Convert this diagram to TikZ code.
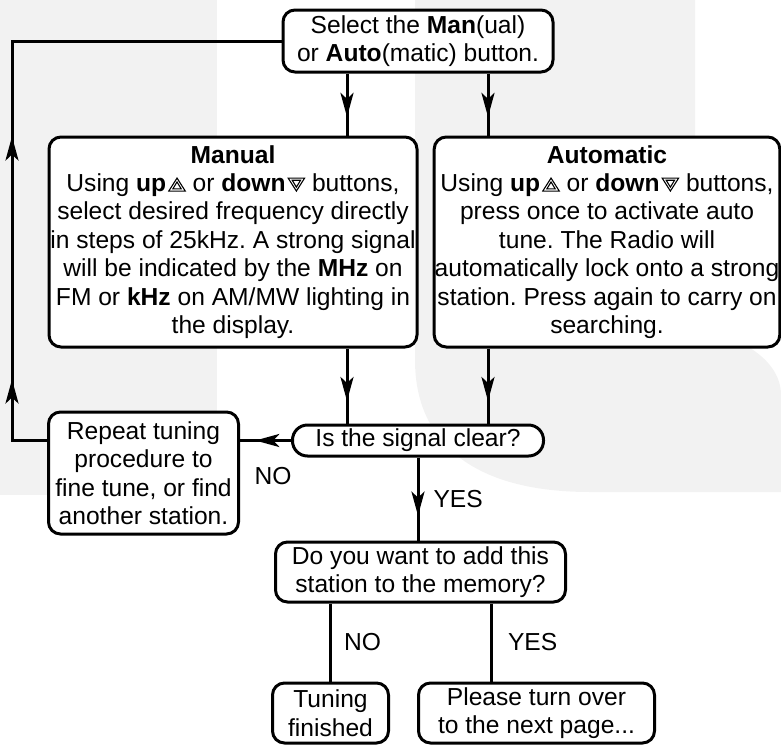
\documentclass[tikz,border=0pt]{standalone}
\usepackage{fontspec}
\setmainfont{Liberation Sans}
\usetikzlibrary{arrows.meta, positioning, decorations.markings}
\frenchspacing

% button symbols used in the text
\newcommand{\upsym}{\tikz[baseline=0pt,x=1pt,y=1pt,line width=1.1pt,sharp corners]{\draw (0.5,0.5) -- (17,0.5) -- (8.75,13.5) -- cycle; \draw (4.6,2.7) -- (12.9,2.7) -- (8.75,9.6) -- cycle;}}
\newcommand{\downsym}{\tikz[baseline=0pt,x=1pt,y=1pt,line width=1.1pt,sharp corners]{\draw (0.5,13.5) -- (17,13.5) -- (8.75,0.5) -- cycle; \draw (4.6,11.3) -- (12.9,11.3) -- (8.75,4.4) -- cycle;}}

\tikzset{tiphead/.tip={Stealth[length=24pt,width=13pt,inset=6pt]}}
\tikzstyle{stepbox} = [rectangle, rounded corners=12pt, draw=black, line width=3pt, fill=white, align=center, inner sep=0.5pt, font=\fontsize{24.6}{28.4}\selectfont]
\tikzstyle{question} = [stepbox, rounded corners=15pt]
\tikzstyle{answer} = [inner sep=0pt, font=\fontsize{24.6}{28.4}\selectfont]
\tikzstyle{link} = [line width=3pt]
\tikzstyle{arrow} = [link, postaction={decorate}, decoration={markings, mark=at position 0.7 with {\arrow{tiphead}}}]
\tikzstyle{watermark} = [fill=black!5, draw=none]

\begin{document}
\begin{tikzpicture}[x=1pt, y=-1pt]
    \useasboundingbox (0,0) rectangle (781,744);
    % Background logo
    \fill[watermark] (0,0) rectangle (217,495);
    \fill[watermark] (415,0) -- (695,0) -- (695,330) .. controls (740,335) and (781,360) .. (781,395) -- (781,492) -- (590,492) .. controls (470,492) and (415,440) .. (415,360) -- cycle;

    % Nodes
    \node (select) [stepbox, minimum width=270pt, minimum height=62pt] at (418,41) {Select the \textbf{Man}(ual)\\or \textbf{Auto}(matic) button.};
    \node (manual) [stepbox, minimum width=368pt, minimum height=210pt, below of=select, node distance=201pt, xshift=-185pt] {\textbf{Manual}\\Using \textbf{up}\hspace{2pt}\upsym{} or \textbf{down}\hspace{2pt}\downsym{} buttons,\\select desired frequency directly\\in steps of 25kHz. A strong signal\\will be indicated by the \textbf{MHz} on\\FM or \textbf{kHz} on AM/MW lighting in\\the display.};
    \node (auto) [stepbox, minimum width=344pt, minimum height=210pt, right of=manual, node distance=374pt] {\textbf{Automatic}\\Using \textbf{up}\hspace{2pt}\upsym{} or \textbf{down}\hspace{2pt}\downsym{} buttons,\\press once to activate auto\\tune. The Radio will\\automatically lock onto a strong\\station. Press again to carry on\\searching.};
    \node (signal) [question, minimum width=251pt, minimum height=31pt, below of=select, node distance=399.5pt] {Is the signal clear?};
    \node (repeat) [stepbox, minimum width=190pt, minimum height=122pt, left of=signal, node distance=274.5pt, yshift=-32.5pt] {Repeat tuning\\procedure to\\fine tune, or find\\another station.};
    \node (memory) [stepbox, minimum width=290pt, minimum height=60pt, below of=signal, node distance=131.5pt, xshift=2.5pt] {Do you want to add this\\station to the memory?};
    \node (tuning) [stepbox, minimum width=116pt, minimum height=60pt, below of=memory, node distance=141pt, xshift=-90pt] {Tuning\\finished};
    \node (please) [stepbox, minimum width=236pt, minimum height=60pt, right of=tuning, node distance=206pt] {Please turn over\\to the next page...};

    \coordinate (manlane) at ([xshift=-71pt]select.south);
    \coordinate (autolane) at ([xshift=70pt]select.south);

    % Arrows
    \draw [arrow] (manlane) -- (manlane |- manual.north);
    \draw [arrow] (autolane) -- (autolane |- auto.north);
    \draw [arrow] (manlane |- manual.south) -- (manlane |- signal.north);
    \draw [arrow] (autolane |- auto.south) -- (autolane |- signal.north);
    \draw [arrow] (signal.west) -- node[answer, pos=0.35, yshift=-36pt] {NO} (signal.west -| repeat.east);
    \draw [arrow] (signal.south) -- node[answer, right=14pt] {YES} (signal.south |- memory.north);
    \draw [link, postaction={decorate}, decoration={markings,
        mark=at position 96pt with {\arrow{tiphead}},
        mark=at position 339pt with {\arrow{tiphead}}}]
        (repeat.west |- signal.west) -- ++(-35pt,0) |- (select.west);
    \draw [link] (tuning.north |- memory.south) -- node[answer, right=12pt] {NO} (tuning.north);
    \draw [link] ([xshift=71pt]memory.south) -- node[answer, right=15pt] {YES} ([xshift=71pt]memory.south |- please.north);
\end{tikzpicture}
\end{document}
